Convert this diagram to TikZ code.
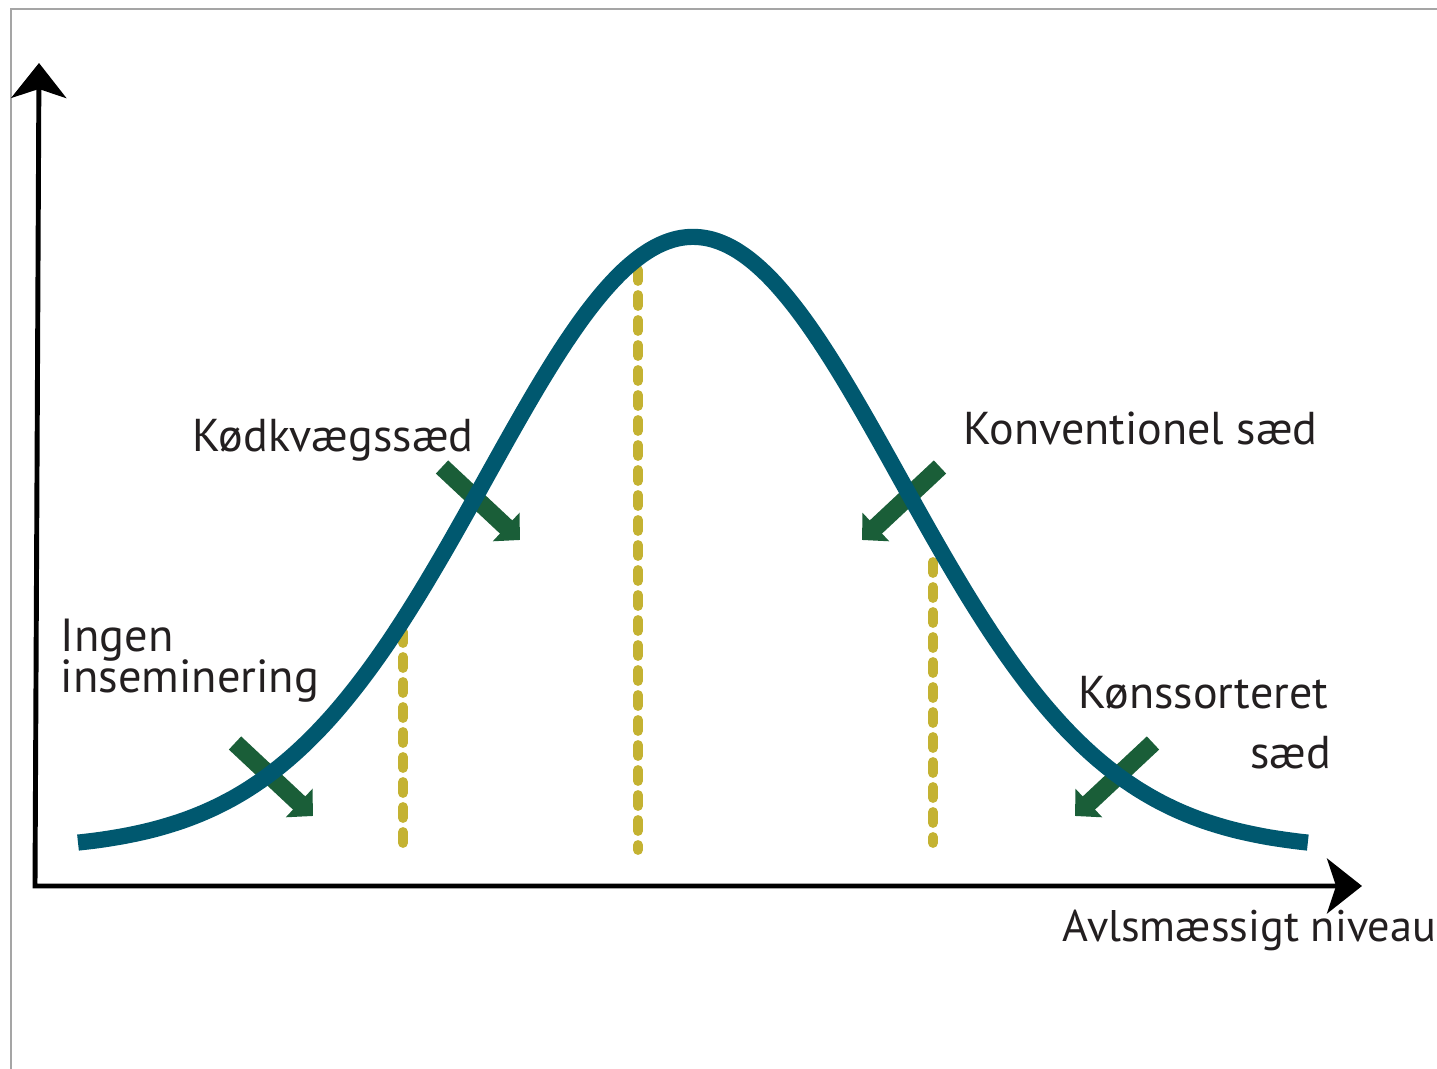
\documentclass[tikz,border=0pt]{standalone}
\usepackage{fontspec}
\setmainfont{PT Sans}
\usetikzlibrary{arrows.meta}
\definecolor{curveblue}{RGB}{0,88,111}
\definecolor{arrowgreen}{RGB}{26,94,56}
\definecolor{dashyellow}{RGB}{196,178,50}
\definecolor{textgray}{RGB}{35,31,32}
\definecolor{framegray}{RGB}{165,165,165}
\tikzset{
  framestyle/.style={draw=framegray, line width=0.6pt},
  axisstyle/.style={draw=black, line width=1.4pt, {Stealth[length=0.35cm,width=0.55cm,inset=0.09cm]}-{Stealth[length=0.35cm,width=0.55cm,inset=0.09cm]}},
  bellcurve/.style={draw=curveblue, line width=4.6pt},
  dashline/.style={draw=dashyellow, line width=2.8pt, line cap=round, dash pattern=on 0.11cm off 0.14cm},
  greenarrow/.style={draw=arrowgreen, line width=0.18cm, -{Triangle[length=0.19cm,width=0.38cm]}},
  lbl/.style={inner sep=0pt, text=textgray, font=\fontsize{13.1}{14}\selectfont},
  biglbl/.style={inner sep=0pt, text=textgray, font=\fontsize{13.2}{14}\selectfont},
  axlbl/.style={inner sep=0pt, text=textgray, font=\fontsize{12.6}{14}\selectfont},
}
\begin{document}
\begin{tikzpicture}[x=1cm,y=-1cm]
\useasboundingbox (0,0) rectangle (14.37,10.69);
% frame
\draw[framestyle] (0.11,10.69) -- (0.11,0.09) -- (14.37,0.09);
% axes
\coordinate (ytip) at (0.39,0.63);
\coordinate (origin) at (0.35,8.86);
\coordinate (xtip) at (13.62,8.86);
\draw[axisstyle] (ytip) -- (origin) -- (xtip);
% dashed lines
\coordinate (d1t) at (4.03,6.32); \coordinate (d1b) at (4.03,8.45);
\coordinate (d2t) at (6.38,2.70); \coordinate (d2b) at (6.38,8.50);
\coordinate (d3t) at (9.33,5.62); \coordinate (d3b) at (9.33,8.43);
\draw[dashline] (d1t) -- (d1b);
\draw[dashline] (d2t) -- (d2b);
\draw[dashline] (d3t) -- (d3b);
% green arrows
\coordinate (a1s) at (2.35,7.43); \coordinate (a1e) at (3.13,8.16);
\coordinate (a2s) at (4.42,4.67); \coordinate (a2e) at (5.20,5.40);
\coordinate (a3s) at (9.40,4.67); \coordinate (a3e) at (8.62,5.40);
\coordinate (a4s) at (11.53,7.43); \coordinate (a4e) at (10.75,8.16);
\draw[greenarrow] (a1s) -- (a1e);
\draw[greenarrow] (a2s) -- (a2e);
\draw[greenarrow] (a3s) -- (a3e);
\draw[greenarrow] (a4s) -- (a4e);
% bell curve
\draw[bellcurve] plot[domain=0.78:13.08, samples=160, smooth] (\x, {8.50-6.13*exp(-((\x-6.93)^2)/8.57)});
% labels
\node[lbl, anchor=base west] (kod) at (1.92,4.52) {Kødkvægssæd};
\node[lbl, anchor=base west] (konv) at (9.63,4.45) {Konventionel sæd};
\node[biglbl, anchor=base west] (ingen) at (0.60,6.52) {Ingen};
\node[biglbl, anchor=base west] (insem) at (0.60,6.93) {inseminering};
\node[lbl, anchor=base west] (kons) at (10.78,7.09) {Kønssorteret};
\node[lbl, anchor=base east] (saed) at (13.32,7.69) {sæd};
\node[axlbl, anchor=base west] (avls) at (10.62,9.42) {Avlsmæssigt niveau};
\end{tikzpicture}
\end{document}
